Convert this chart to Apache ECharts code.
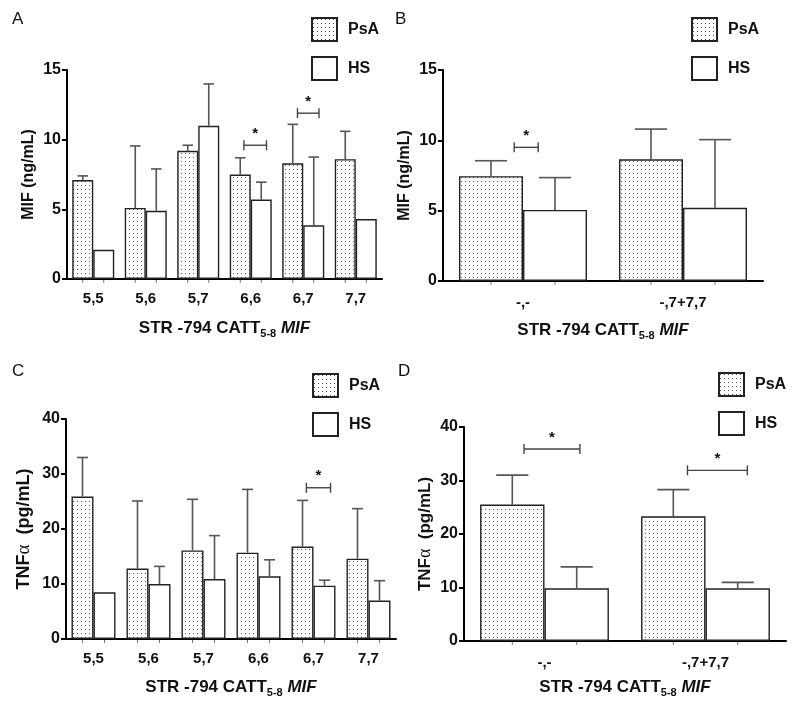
<!DOCTYPE html>
<html>
<head>
<meta charset="utf-8">
<script src="https://cdn.jsdelivr.net/npm/echarts@6/dist/echarts.min.js"></script>
<style>
  html, body { margin: 0; padding: 0; background: #fff; }
  #main { width: 800px; height: 706px; }
</style>
</head>
<body>
<div id="main"></div>
<script>
// categories
var genotypes = ['5,5', '5,6', '5,7', '6,6', '6,7', '7,7'];
var groups = ['-,-', '-,7+7,7'];

// A: MIF (ng/mL) by genotype, bar value and top of error bar
var mifPsA = [7.1, 5.1, 9.2, 7.5, 8.3, 8.6];
var mifPsATop = [7.4, 9.55, 9.6, 8.7, 11.1, 10.6];
var mifHS = [2.1, 4.9, 11.0, 5.7, 3.85, 4.3];
var mifHSTop = [null, 7.9, 14.0, 6.95, 8.75, null];

// B: MIF (ng/mL) by grouped genotype
var mifGrpPsA = [7.45, 8.65];
var mifGrpPsATop = [8.55, 10.8];
var mifGrpHS = [5.05, 5.2];
var mifGrpHSTop = [7.35, 10.05];

// C: TNFa (pg/mL) by genotype
var tnfPsA = [25.9, 12.8, 16.1, 15.7, 16.8, 14.6];
var tnfPsATop = [33.0, 25.1, 25.4, 27.2, 25.2, 23.7];
var tnfHS = [8.5, 10.0, 10.9, 11.4, 9.7, 7.0];
var tnfHSTop = [null, 13.2, 18.8, 14.4, 10.7, 10.6];

// D: TNFa (pg/mL) by grouped genotype
var tnfGrpPsA = [25.5, 23.3];
var tnfGrpPsATop = [31.0, 28.3];
var tnfGrpHS = [9.85, 9.85];
var tnfGrpHSTop = [13.85, 10.95];

// significance brackets: [category, y, from, to] (from/to in category widths)
var sigA = [[3, 9.6, -0.13, 0.30], [4, 11.9, -0.11, 0.30]];
var sigB = [[0, 9.5, -0.055, 0.095]];
var sigC = [[4, 27.5, -0.13, 0.31]];
var sigD = [[0, 35.9, -0.127, 0.22], [1, 31.9, -0.112, 0.26]];

var mifTicks = { min: 0, max: 15, interval: 5 };
var tnfTicks = { min: 0, max: 40, interval: 10 };

var FONT = '"Liberation Sans", Arial, Helvetica, sans-serif';

// dotted fill for PsA bars
function makeDots() {
  var c = document.createElement('canvas');
  c.width = 4; c.height = 4;
  var ctx = c.getContext('2d');
  ctx.fillStyle = '#ffffff';
  ctx.fillRect(0, 0, 4, 4);
  ctx.fillStyle = '#555555';
  ctx.fillRect(1, 1, 1, 1);
  return c;
}
var dots = { image: makeDots(), repeat: 'repeat' };

function errData(vals, tops, side) {
  return vals.map(function (v, i) {
    return [i, v, tops[i] == null ? v : tops[i], side];
  });
}

function renderErr(params, api) {
  var idx = api.value(0);
  var v = api.value(1), top = api.value(2), side = api.value(3);
  var w = api.size([1, 0])[0];
  var p = api.coord([idx, v]);
  var base = api.coord([idx, 0]);
  var x = p[0] + side * 0.2 * w;
  var kids = [{
    type: 'line',
    shape: { x1: x, y1: base[1] + 1, x2: x, y2: base[1] + 4 },
    style: { stroke: '#777', lineWidth: 1 }
  }];
  if (top > v) {
    var t = api.coord([idx, top]);
    kids.push({
      type: 'line',
      shape: { x1: x, y1: p[1], x2: x, y2: t[1] },
      style: { stroke: '#555', lineWidth: 1.6 }
    });
    kids.push({
      type: 'line',
      shape: { x1: x - 0.1 * w, y1: t[1], x2: x + 0.1 * w, y2: t[1] },
      style: { stroke: '#555', lineWidth: 1.6 }
    });
  }
  return { type: 'group', children: kids };
}

function renderSig(params, api) {
  var idx = api.value(0);
  var p = api.coord([idx, api.value(1)]);
  var w = api.size([1, 0])[0];
  var x0 = p[0] + api.value(2) * w, x1 = p[0] + api.value(3) * w, y = p[1];
  var st = { stroke: '#444', lineWidth: 1.4 };
  return {
    type: 'group',
    children: [
      { type: 'line', shape: { x1: x0, y1: y, x2: x1, y2: y }, style: st },
      { type: 'line', shape: { x1: x0, y1: y - 5, x2: x0, y2: y + 5 }, style: st },
      { type: 'line', shape: { x1: x1, y1: y - 5, x2: x1, y2: y + 5 }, style: st },
      {
        type: 'text',
        style: {
          text: '*', x: (x0 + x1) / 2, y: y - 4, align: 'center', verticalAlign: 'bottom',
          font: 'bold 15px ' + FONT, fill: '#111'
        }
      }
    ]
  };
}

var xName = '{a|STR -794 CATT}{s|5-8}{i| MIF}';
var xNameStyle = {
  rich: {
    a: { fontFamily: FONT, fontWeight: 'bold', fontSize: 17, color: '#111', lineHeight: 22, verticalAlign: 'middle' },
    s: { fontFamily: FONT, fontWeight: 'bold', fontSize: 11, color: '#111', lineHeight: 22, verticalAlign: 'bottom' },
    i: { fontFamily: FONT, fontWeight: 'bold', fontStyle: 'italic', fontSize: 17, color: '#111', lineHeight: 22, verticalAlign: 'middle' }
  }
};

function tnfName(size) {
  return {
    rich: {
      b: { fontFamily: FONT, fontWeight: 'bold', fontSize: size, color: '#111' },
      g: { fontFamily: '"Liberation Serif", "DejaVu Serif", serif', fontSize: size + 1, color: '#111' }
    }
  };
}

function xAxisFor(gi, cats, labelMargin, nameGap) {
  return {
    type: 'category', gridIndex: gi, data: cats,
    axisLine: { lineStyle: { color: '#000', width: 2 } },
    axisTick: { show: false },
    axisLabel: { color: '#111', fontFamily: FONT, fontWeight: 'bold', fontSize: 15, margin: labelMargin },
    name: xName, nameLocation: 'middle', nameGap: nameGap, nameTextStyle: xNameStyle
  };
}

function yAxisFor(gi, ticks, name, nameStyle, nameGap) {
  return {
    type: 'value', gridIndex: gi, min: ticks.min, max: ticks.max, interval: ticks.interval,
    splitLine: { show: false },
    axisLine: { show: true, lineStyle: { color: '#000', width: 2 } },
    axisTick: { show: true, length: 5, lineStyle: { color: '#000', width: 2 } },
    axisLabel: { color: '#111', fontFamily: FONT, fontWeight: 'bold', fontSize: 16, margin: 6 },
    name: name, nameLocation: 'middle', nameGap: nameGap, nameTextStyle: nameStyle
  };
}

function panelSeries(gi, psa, psaTop, hs, hsTop, sig) {
  return [
    {
      name: 'PsA', type: 'bar', xAxisIndex: gi, yAxisIndex: gi, data: psa,
      barGap: '0%', barCategoryGap: '20%',
      itemStyle: { color: dots, borderColor: '#222', borderWidth: 1.4 }
    },
    {
      name: 'HS', type: 'bar', xAxisIndex: gi, yAxisIndex: gi, data: hs,
      barGap: '0%', barCategoryGap: '20%',
      itemStyle: { color: '#fff', borderColor: '#222', borderWidth: 1.4 }
    },
    {
      type: 'custom', xAxisIndex: gi, yAxisIndex: gi, z: 3,
      renderItem: renderErr,
      data: errData(psa, psaTop, -1).concat(errData(hs, hsTop, 1))
    },
    {
      type: 'custom', xAxisIndex: gi, yAxisIndex: gi, z: 3,
      renderItem: renderSig, data: sig
    }
  ];
}

function legendAt(left, top) {
  return {
    data: ['PsA', 'HS'], orient: 'vertical', left: left, top: top,
    icon: 'rect', itemWidth: 25, itemHeight: 23, itemGap: 14, selectedMode: false,
    textStyle: { fontFamily: FONT, fontWeight: 'bold', fontSize: 16, color: '#111', padding: [0, 0, 0, 6] }
  };
}

function letter(txt, left, top) {
  return { type: 'text', left: left, top: top, style: { text: txt, font: '17px ' + FONT, fill: '#111' } };
}

var chart = echarts.init(document.getElementById('main'));
chart.setOption({
  animation: false,
  backgroundColor: '#fff',
  grid: [
    { left: 67, top: 70, width: 315, height: 209 },
    { left: 443, top: 70, width: 320, height: 211 },
    { left: 66, top: 419, width: 330, height: 220 },
    { left: 464, top: 427, width: 322, height: 214 }
  ],
  legend: [legendAt(306, 12), legendAt(686, 12), legendAt(307, 368), legendAt(713, 367)],
  graphic: [letter('A', 12, 11), letter('B', 395, 11), letter('C', 12, 363), letter('D', 398, 363)],
  xAxis: [
    xAxisFor(0, genotypes, 12, 38),
    xAxisFor(1, groups, 14, 38),
    xAxisFor(2, genotypes, 12, 37),
    xAxisFor(3, groups, 14, 35)
  ],
  yAxis: [
    yAxisFor(0, mifTicks, 'MIF (ng/mL)', { fontFamily: FONT, fontWeight: 'bold', fontSize: 16, color: '#111' }, 30),
    yAxisFor(1, mifTicks, 'MIF (ng/mL)', { fontFamily: FONT, fontWeight: 'bold', fontSize: 16, color: '#111' }, 30),
    yAxisFor(2, tnfTicks, '{b|TNF}{g|α}{b|  (pg/mL)}', tnfName(18), 32),
    yAxisFor(3, tnfTicks, '{b|TNF}{g|α}{b|  (pg/mL)}', tnfName(17), 30)
  ],
  series: []
    .concat(panelSeries(0, mifPsA, mifPsATop, mifHS, mifHSTop, sigA))
    .concat(panelSeries(1, mifGrpPsA, mifGrpPsATop, mifGrpHS, mifGrpHSTop, sigB))
    .concat(panelSeries(2, tnfPsA, tnfPsATop, tnfHS, tnfHSTop, sigC))
    .concat(panelSeries(3, tnfGrpPsA, tnfGrpPsATop, tnfGrpHS, tnfGrpHSTop, sigD))
});
</script>
</body>
</html>
